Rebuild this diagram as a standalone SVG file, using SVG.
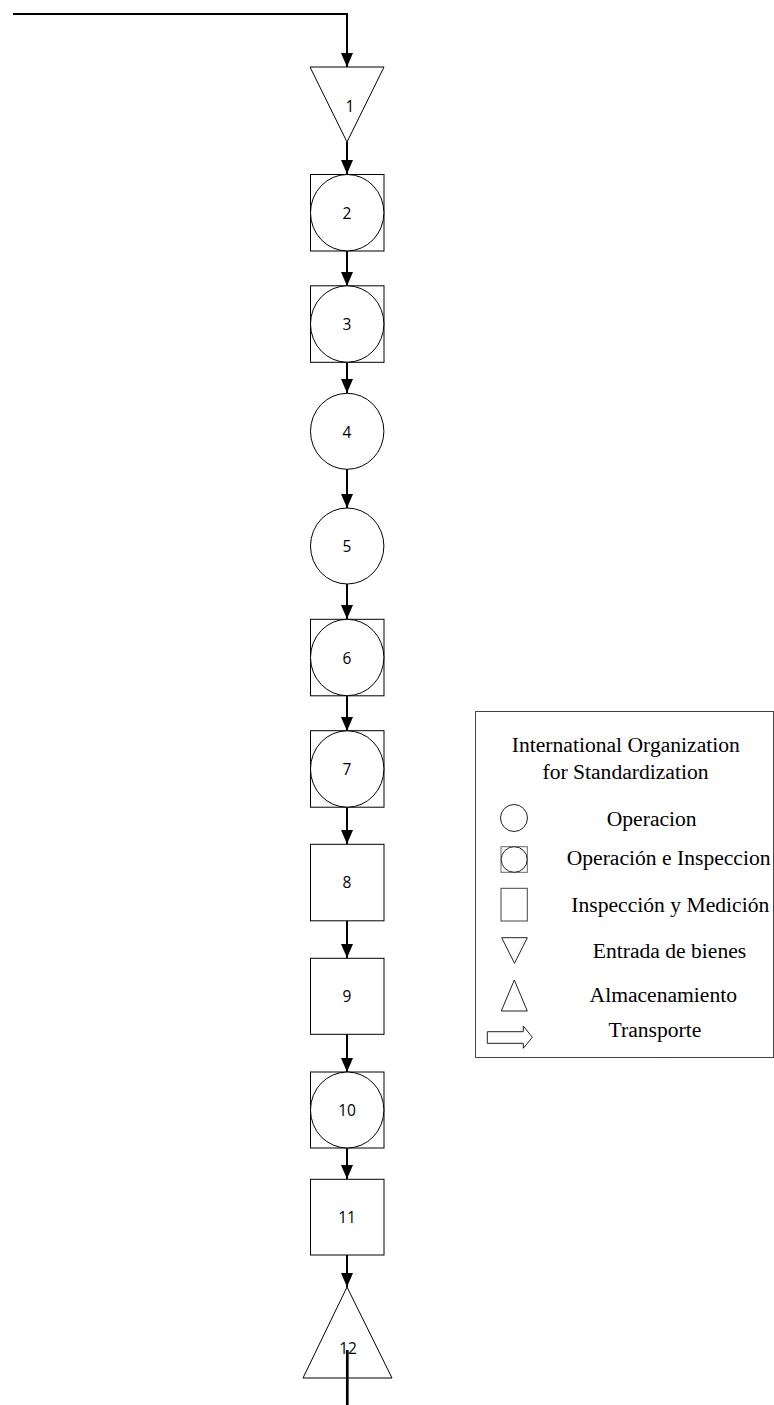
<svg xmlns="http://www.w3.org/2000/svg" width="774" height="1405" viewBox="0 0 774 1405">
  <style>
    .shape { fill: #ffffff; stroke: #000000; stroke-width: 1; }
    .lbl { font-family: "Open Sans", "Noto Sans", sans-serif; font-size: 15.5px; fill: #000000; text-anchor: middle; dominant-baseline: central; }
    .flow { fill: none; stroke: #000000; stroke-width: 2; }
    .legend-frame { fill: #ffffff; stroke: #444444; stroke-width: 1; }
    .legend-icon { fill: #ffffff; stroke: #222222; stroke-width: 1; }
    .legend-text { font-family: "Liberation Serif", "Times New Roman", serif; font-size: 21.6px; fill: #000000; text-anchor: middle; }
  </style>
  <defs>
    <marker id="head" markerUnits="userSpaceOnUse" markerWidth="14" markerHeight="12" viewBox="0 0 14 12" refX="14" refY="6" orient="auto">
      <path d="M0 0 L14 6 L0 12 Z" fill="#000000"/>
    </marker>
  </defs>

  <!-- connectors -->
  <g id="connectors">
    <path class="flow" d="M13 14 H347 V67" marker-end="url(#head)"/>
    <path class="flow" d="M347 142 V174" marker-end="url(#head)"/>
    <path class="flow" d="M347 251 V286" marker-end="url(#head)"/>
    <path class="flow" d="M347 362 V393" marker-end="url(#head)"/>
    <path class="flow" d="M347 469 V508" marker-end="url(#head)"/>
    <path class="flow" d="M347 584 V619" marker-end="url(#head)"/>
    <path class="flow" d="M347 696 V731" marker-end="url(#head)"/>
    <path class="flow" d="M347 807 V844" marker-end="url(#head)"/>
    <path class="flow" d="M347 921 V958" marker-end="url(#head)"/>
    <path class="flow" d="M347 1034 V1072" marker-end="url(#head)"/>
    <path class="flow" d="M347 1148 V1179" marker-end="url(#head)"/>
    <path class="flow" d="M347 1255 V1287" marker-end="url(#head)"/>
  </g>

  <!-- 1: entrada de bienes -->
  <g id="node-1">
    <polygon class="shape" points="310,67 384,67 347,142"/>
    <text class="lbl" x="350" y="106">1</text>
  </g>

  <!-- 2: operacion e inspeccion -->
  <g id="node-2">
    <rect class="shape" x="310.5" y="174.5" width="73.5" height="76.5"/>
    <ellipse class="shape" cx="347.2" cy="212.7" rx="36.7" ry="38.2"/>
    <text class="lbl" x="347" y="213">2</text>
  </g>

  <g id="node-3">
    <rect class="shape" x="310.5" y="285.8" width="73.5" height="76.5"/>
    <ellipse class="shape" cx="347.2" cy="324" rx="36.7" ry="38.2"/>
    <text class="lbl" x="347" y="324">3</text>
  </g>

  <!-- 4, 5: operacion -->
  <g id="node-4">
    <ellipse class="shape" cx="347.2" cy="431.3" rx="36.7" ry="38"/>
    <text class="lbl" x="347" y="432">4</text>
  </g>

  <g id="node-5">
    <ellipse class="shape" cx="347.2" cy="546" rx="36.7" ry="38"/>
    <text class="lbl" x="347" y="546">5</text>
  </g>

  <g id="node-6">
    <rect class="shape" x="310.5" y="619.3" width="73.5" height="76.5"/>
    <ellipse class="shape" cx="347.2" cy="657.5" rx="36.7" ry="38.2"/>
    <text class="lbl" x="347" y="658">6</text>
  </g>

  <g id="node-7">
    <rect class="shape" x="310.5" y="730.7" width="73.5" height="76.5"/>
    <ellipse class="shape" cx="347.2" cy="769" rx="36.7" ry="38.2"/>
    <text class="lbl" x="347" y="769">7</text>
  </g>

  <!-- 8, 9: inspeccion y medicion -->
  <g id="node-8">
    <rect class="shape" x="310.5" y="844.3" width="73.5" height="76.5"/>
    <text class="lbl" x="347" y="882">8</text>
  </g>

  <g id="node-9">
    <rect class="shape" x="310.5" y="958.3" width="73.5" height="76"/>
    <text class="lbl" x="347" y="996">9</text>
  </g>

  <g id="node-10">
    <rect class="shape" x="310.5" y="1072" width="73.5" height="76"/>
    <ellipse class="shape" cx="347.2" cy="1110" rx="36.7" ry="38"/>
    <text class="lbl" x="347" y="1110">10</text>
  </g>

  <g id="node-11">
    <rect class="shape" x="310.5" y="1179.3" width="73.5" height="75.7"/>
    <text class="lbl" x="347" y="1217">11</text>
  </g>

  <!-- 12: almacenamiento -->
  <g id="node-12">
    <polygon class="shape" points="347,1287 392,1378 303,1378"/>
    <text class="lbl" x="348" y="1348">12</text>
    <line x1="347.3" y1="1350" x2="347.3" y2="1405" stroke="#000000" stroke-width="2.7"/>
  </g>

  <!-- legend -->
  <g id="legend">
    <rect class="legend-frame" x="475.5" y="711.5" width="298" height="346"/>
    <text class="legend-text" x="625.8" y="751.7">International Organization</text>
    <text class="legend-text" x="625.5" y="779">for Standardization</text>

    <circle class="legend-icon" cx="514" cy="818" r="13.5"/>
    <text class="legend-text" x="651.7" y="825.7">Operacion</text>

    <rect x="501" y="846.7" width="26.3" height="25.6" fill="#ffffff" stroke="#666666" stroke-width="1"/>
    <ellipse class="legend-icon" cx="514.2" cy="859.5" rx="13" ry="12.8"/>
    <text class="legend-text" x="566.7" y="865" style="text-anchor:start">Operación e Inspeccion</text>

    <rect x="501" y="888.3" width="26.3" height="32.7" fill="#ffffff" stroke="#444444" stroke-width="1"/>
    <text class="legend-text" x="670.3" y="912">Inspección y Medición</text>

    <polygon class="legend-icon" points="501.7,937.7 527.3,937.7 514.5,963.3"/>
    <text class="legend-text" x="669.5" y="958">Entrada de bienes</text>

    <polygon class="legend-icon" points="514.3,980 527.3,1011 501.3,1011"/>
    <text class="legend-text" x="663.3" y="1002">Almacenamiento</text>

    <polygon class="legend-icon" points="487.3,1031.7 523.3,1031.7 523.3,1026 532.3,1037.3 523.3,1048.3 523.3,1043.3 487.3,1043.3"/>
    <text class="legend-text" x="655" y="1037">Transporte</text>
  </g>
</svg>
